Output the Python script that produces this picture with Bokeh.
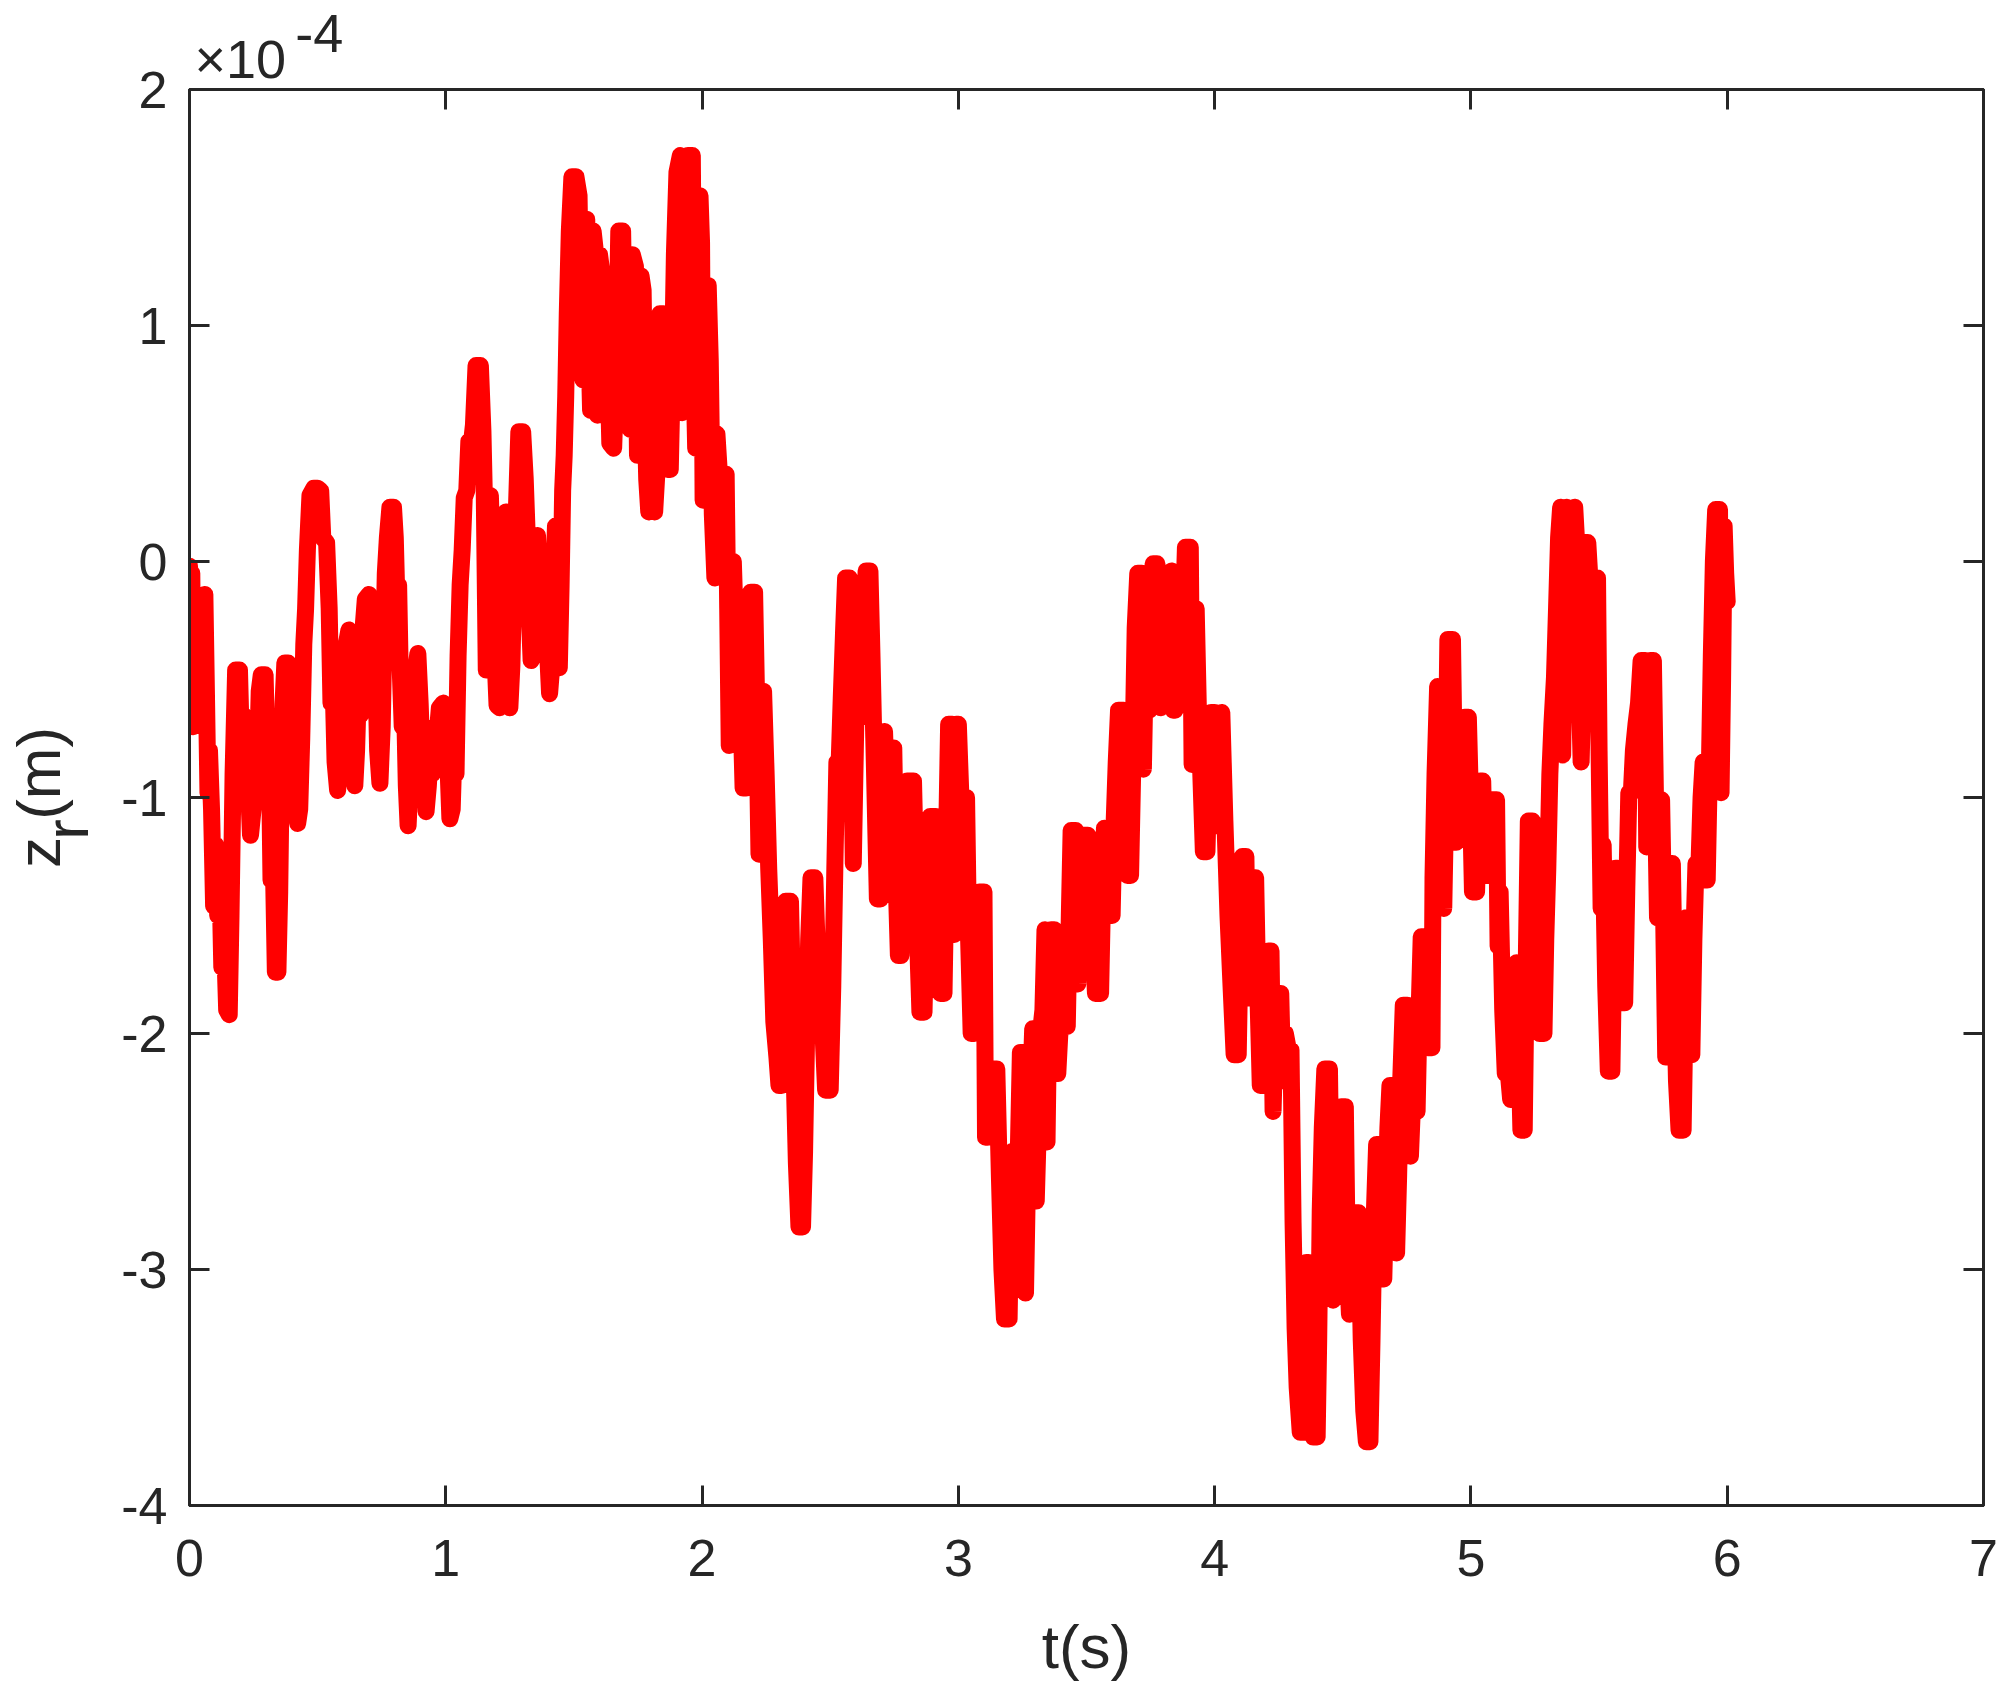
import math
from bokeh.plotting import figure
from bokeh.models import Range1d, FixedTicker, LinearAxis, Title
from bokeh.embed import file_html
from bokeh.resources import INLINE

# ---------------- data (t in s, z_r in units of 1e-4 m) ----------------
seg_0_to_1 = [
    (0.000, -0.02), (0.004, -0.30), (0.009, -0.05), (0.014, -0.70), (0.020, -0.35), (0.026, -0.68),
    (0.034, -0.25), (0.045, -0.40), (0.052, -0.15), (0.060, -0.14), (0.066, -0.55), (0.072, -0.98),
    (0.078, -0.80), (0.086, -1.05), (0.094, -1.46), (0.102, -1.20), (0.110, -1.50), (0.118, -1.30),
    (0.126, -1.72), (0.135, -1.55), (0.145, -1.90), (0.155, -1.92), (0.162, -1.50), (0.170, -0.90),
    (0.180, -0.46), (0.195, -0.46), (0.203, -0.80), (0.210, -0.65), (0.218, -1.00), (0.228, -0.90),
    (0.238, -1.16), (0.248, -1.05), (0.256, -0.80), (0.264, -0.90), (0.272, -0.55), (0.280, -0.48),
    (0.295, -0.48), (0.303, -0.85), (0.310, -0.70), (0.318, -1.35), (0.326, -1.20), (0.335, -1.74),
    (0.345, -1.74), (0.352, -1.40), (0.358, -0.90), (0.365, -0.60), (0.372, -0.43), (0.385, -0.43),
    (0.392, -0.75), (0.398, -0.60), (0.405, -0.95), (0.414, -0.85), (0.422, -1.11), (0.430, -1.05),
    (0.438, -0.75), (0.446, -0.35), (0.453, -0.20), (0.460, 0.05), (0.470, 0.28), (0.485, 0.31),
    (0.500, 0.31), (0.512, 0.30), (0.520, 0.10), (0.535, 0.08), (0.545, -0.20), (0.552, -0.60),
    (0.560, -0.50), (0.568, -0.85), (0.578, -0.97), (0.588, -0.80), (0.596, -0.60), (0.604, -0.75),
    (0.612, -0.35), (0.622, -0.29), (0.630, -0.55), (0.638, -0.70), (0.645, -0.95), (0.652, -0.80),
    (0.660, -0.50), (0.668, -0.65), (0.676, -0.30), (0.686, -0.16), (0.700, -0.14), (0.712, -0.18),
    (0.718, -0.55), (0.726, -0.40), (0.734, -0.80), (0.743, -0.94), (0.752, -0.70), (0.758, -0.35),
    (0.764, -0.05), (0.772, 0.10), (0.782, 0.23), (0.796, 0.23), (0.803, 0.10), (0.810, -0.20),
    (0.816, -0.10), (0.822, -0.45), (0.830, -0.70), (0.838, -0.55), (0.846, -0.95), (0.853, -1.12),
    (0.862, -0.90), (0.870, -0.60), (0.878, -0.75), (0.884, -0.45), (0.891, -0.39), (0.900, -0.60),
    (0.908, -0.85), (0.916, -0.75), (0.923, -1.06), (0.932, -0.95), (0.940, -0.80), (0.948, -0.90),
    (0.956, -0.70), (0.965, -0.75), (0.975, -0.62), (0.990, -0.60), (1.000, -0.62), (1.008, -0.85),
    (1.016, -1.09), (1.025, -1.05), (1.032, -0.80), (1.040, -0.90), (1.048, -0.40), (1.056, -0.10),
    (1.064, 0.05), (1.072, 0.27), (1.082, 0.30), (1.090, 0.51), (1.100, 0.50), (1.108, 0.58),
    (1.118, 0.83), (1.135, 0.83), (1.145, 0.55),
]

seg_1_to_2 = [
    (1.150, 0.30), (1.158, -0.46), (1.166, -0.10), (1.174, 0.28), (1.182, 0.00), (1.190, -0.35),
    (1.200, -0.61), (1.210, -0.62), (1.218, -0.20), (1.225, 0.05), (1.235, 0.21), (1.243, -0.10),
    (1.250, -0.62), (1.258, -0.44), (1.266, -0.05), (1.275, 0.20), (1.285, 0.55), (1.300, 0.55),
    (1.310, 0.35), (1.318, 0.10), (1.325, -0.20), (1.333, -0.42), (1.342, -0.40), (1.350, -0.10),
    (1.358, 0.11), (1.366, -0.10), (1.374, -0.35), (1.382, -0.10), (1.390, 0.03), (1.398, -0.40),
    (1.405, -0.56), (1.413, -0.45), (1.420, -0.10), (1.428, 0.15), (1.435, -0.20), (1.443, -0.45),
    (1.450, -0.10), (1.456, 0.30), (1.462, 0.45), (1.468, 0.70), (1.474, 1.05), (1.482, 1.40),
    (1.492, 1.63), (1.508, 1.63), (1.520, 1.55), (1.528, 1.00), (1.535, 0.77), (1.542, 1.20),
    (1.550, 1.45), (1.558, 0.95), (1.565, 0.64), (1.575, 1.40), (1.585, 1.30), (1.592, 0.62),
    (1.600, 1.30), (1.612, 1.20), (1.620, 0.98), (1.630, 0.95), (1.640, 0.50), (1.655, 0.48),
    (1.665, 0.80), (1.675, 1.40), (1.690, 1.40), (1.698, 0.87), (1.705, 0.80), (1.712, 1.10),
    (1.720, 0.56), (1.728, 1.30), (1.740, 1.25), (1.748, 0.45), (1.755, 0.60), (1.762, 1.21),
    (1.770, 1.15), (1.776, 0.70), (1.784, 0.35), (1.792, 0.21), (1.800, 0.83), (1.808, 0.60),
    (1.815, 0.21), (1.825, 0.40), (1.835, 1.05), (1.850, 1.05), (1.858, 0.70), (1.866, 0.39),
    (1.876, 0.39), (1.884, 0.80), (1.892, 1.30), (1.902, 1.65), (1.915, 1.72), (1.922, 0.63),
    (1.930, 1.10), (1.938, 1.00), (1.945, 1.72), (1.962, 1.72), (1.968, 0.83), (1.975, 0.48),
    (1.983, 1.20), (1.992, 1.55), (1.998, 1.35), (2.004, 0.26), (2.012, 0.40), (2.024, 1.17),
    (2.032, 0.85), (2.040, 0.20), (2.050, -0.07), (2.058, 0.54), (2.066, 0.40), (2.076, 0.37),
    (2.094, 0.37), (2.100, -0.20), (2.106, -0.78), (2.114, -0.20), (2.122, 0.00),
]

seg_2_to_3 = [
    (2.132, -0.35), (2.145, -0.35), (2.160, -0.96), (2.172, -0.96), (2.180, -0.50), (2.190, -0.13),
    (2.205, -0.13), (2.213, -0.60), (2.222, -1.24), (2.232, -1.00), (2.240, -0.55), (2.250, -0.90),
    (2.260, -1.30), (2.270, -1.60), (2.280, -1.95), (2.292, -2.10), (2.300, -2.22), (2.310, -2.22),
    (2.318, -1.80), (2.326, -1.44), (2.345, -1.44), (2.352, -1.80), (2.360, -2.20), (2.368, -2.55),
    (2.378, -2.82), (2.392, -2.82), (2.400, -2.50), (2.408, -2.00), (2.416, -1.60), (2.425, -1.34),
    (2.440, -1.34), (2.448, -1.60), (2.456, -1.90), (2.464, -1.75), (2.472, -2.00), (2.482, -2.24),
    (2.500, -2.24), (2.510, -1.80), (2.518, -1.30), (2.526, -0.85), (2.535, -0.85), (2.543, -0.58),
    (2.552, -0.30), (2.560, -0.07), (2.575, -0.07), (2.582, -0.60), (2.590, -1.28), (2.598, -0.80),
    (2.606, -0.30), (2.614, -0.10), (2.622, -0.66), (2.630, -0.40), (2.640, -0.04), (2.655, -0.04),
    (2.663, -0.40), (2.670, -0.75), (2.684, -1.43), (2.696, -1.43), (2.704, -0.90), (2.712, -0.72),
    (2.722, -1.05), (2.732, -0.79), (2.748, -0.79), (2.756, -1.30), (2.766, -1.67), (2.776, -1.67),
    (2.786, -1.20), (2.800, -0.93), (2.825, -0.93), (2.835, -1.40), (2.850, -1.91), (2.866, -1.91),
    (2.876, -1.40), (2.890, -1.08), (2.912, -1.08), (2.920, -1.50), (2.930, -1.83), (2.944, -1.83),
    (2.952, -1.30), (2.962, -0.69), (2.976, -0.69), (2.984, -1.58), (2.992, -0.69), (3.000, -0.69),
]

seg_3_to_4 = [
    (3.010, -1.00), (3.022, -1.20), (3.032, -1.00), (3.040, -1.60), (3.050, -2.00), (3.062, -2.00),
    (3.072, -1.60), (3.082, -1.40), (3.100, -1.40), (3.106, -2.44), (3.114, -2.44), (3.122, -2.20),
    (3.135, -2.15), (3.150, -2.15), (3.160, -2.60), (3.170, -3.00), (3.180, -3.21), (3.198, -3.21),
    (3.205, -2.75), (3.210, -2.50), (3.216, -2.90), (3.225, -3.00), (3.232, -2.60), (3.242, -2.08),
    (3.258, -2.08), (3.262, -3.10), (3.270, -2.60), (3.280, -2.30), (3.290, -1.98), (3.300, -1.98),
    (3.304, -2.71), (3.312, -2.40), (3.320, -2.00), (3.330, -1.90), (3.338, -1.56), (3.346, -2.46),
    (3.354, -1.80), (3.362, -1.56), (3.374, -1.56), (3.380, -2.00), (3.388, -2.17), (3.396, -2.00),
    (3.410, -1.97), (3.425, -1.97), (3.433, -1.50), (3.440, -1.14), (3.458, -1.14), (3.466, -1.79),
    (3.474, -1.40), (3.482, -1.16), (3.505, -1.16), (3.515, -1.40), (3.525, -1.60), (3.535, -1.83),
    (3.555, -1.83), (3.563, -1.40), (3.570, -1.13), (3.578, -1.30), (3.590, -1.50), (3.600, -1.50),
    (3.608, -1.10), (3.616, -0.85), (3.625, -0.63), (3.645, -0.63), (3.652, -1.00), (3.660, -1.33),
    (3.672, -1.33), (3.680, -0.90), (3.690, -0.28), (3.700, -0.05), (3.716, -0.05), (3.722, -0.88),
    (3.730, -0.40), (3.738, -0.10), (3.745, -0.63), (3.752, -0.30), (3.760, -0.01), (3.775, -0.01),
    (3.782, -0.30), (3.790, -0.62), (3.798, -0.35), (3.806, -0.10), (3.820, -0.05), (3.832, -0.04),
    (3.838, -0.63), (3.846, -0.63), (3.852, -0.30), (3.860, -0.20), (3.868, -0.55), (3.876, -0.30),
    (3.886, 0.06), (3.905, 0.06), (3.912, -0.86), (3.920, -0.40), (3.928, -0.20), (3.936, -0.60),
    (3.946, -0.90), (3.956, -1.23), (3.970, -1.23), (3.978, -0.90), (3.986, -0.64), (4.000, -0.64),
]

seg_4_to_5 = [
    (4.008, -1.12), (4.016, -0.80), (4.028, -0.64), (4.040, -1.10), (4.052, -1.50), (4.064, -1.80),
    (4.076, -2.09), (4.092, -2.09), (4.100, -1.60), (4.108, -1.25), (4.122, -1.25), (4.130, -1.85),
    (4.138, -1.60), (4.150, -1.34), (4.160, -1.34), (4.168, -1.80), (4.178, -2.22), (4.192, -2.22),
    (4.200, -1.90), (4.210, -1.65), (4.220, -1.65), (4.228, -2.33), (4.236, -2.00), (4.246, -1.83),
    (4.258, -1.83), (4.266, -2.20), (4.276, -2.00), (4.288, -2.07), (4.298, -2.07), (4.306, -2.80),
    (4.314, -3.25), (4.322, -3.50), (4.334, -3.69), (4.345, -3.69), (4.352, -3.20), (4.358, -2.97),
    (4.366, -2.97), (4.374, -3.40), (4.384, -3.71), (4.400, -3.71), (4.406, -3.30), (4.412, -2.75),
    (4.420, -2.40), (4.430, -2.15), (4.448, -2.15), (4.456, -2.80), (4.462, -3.13), (4.470, -3.00),
    (4.478, -2.80), (4.486, -2.50), (4.494, -2.31), (4.510, -2.31), (4.518, -3.00), (4.526, -3.19),
    (4.534, -2.90), (4.545, -2.76), (4.562, -2.76), (4.572, -3.30), (4.582, -3.60), (4.592, -3.73),
    (4.606, -3.73), (4.614, -3.30), (4.622, -2.80), (4.632, -2.47), (4.645, -2.47), (4.652, -2.80),
    (4.660, -3.04), (4.668, -2.70), (4.676, -2.40), (4.684, -2.22), (4.696, -2.22), (4.703, -2.60),
    (4.710, -2.93), (4.718, -2.60), (4.726, -2.20), (4.736, -1.88), (4.752, -1.88), (4.758, -2.20),
    (4.764, -2.52), (4.772, -2.30), (4.780, -2.33), (4.790, -2.33), (4.798, -1.90), (4.806, -1.59),
    (4.816, -1.59), (4.824, -1.90), (4.832, -2.06), (4.848, -2.06), (4.852, -1.34), (4.860, -0.90),
    (4.870, -0.53), (4.878, -0.80), (4.886, -1.20), (4.894, -1.47), (4.902, -1.00), (4.910, -0.33),
    (4.928, -0.33), (4.934, -0.80), (4.942, -1.19), (4.950, -1.00), (4.958, -1.10), (4.966, -0.80),
    (4.975, -0.66), (4.990, -0.66), (4.998, -1.00),
]

seg_5_to_6 = [
    (5.006, -1.40), (5.022, -1.40), (5.030, -1.10), (5.036, -0.93), (5.046, -0.93), (5.054, -1.33),
    (5.064, -1.33), (5.072, -1.10), (5.080, -1.01), (5.100, -1.01), (5.106, -1.63), (5.114, -1.40),
    (5.124, -1.90), (5.134, -2.17), (5.146, -2.17), (5.155, -2.28), (5.165, -2.20), (5.172, -1.90),
    (5.178, -1.70), (5.186, -2.00), (5.195, -2.41), (5.208, -2.41), (5.216, -1.70), (5.224, -1.10),
    (5.240, -1.10), (5.248, -1.50), (5.258, -1.80), (5.268, -2.00), (5.285, -2.00), (5.292, -1.60),
    (5.300, -1.30), (5.308, -0.90), (5.316, -0.69), (5.326, -0.49), (5.334, -0.20), (5.342, 0.10),
    (5.350, 0.23), (5.358, -0.82), (5.366, -0.20), (5.374, 0.23), (5.386, -0.29), (5.394, 0.10),
    (5.405, 0.23), (5.414, 0.05), (5.422, -0.50), (5.430, -0.85), (5.438, -0.50), (5.446, 0.08),
    (5.456, 0.08), (5.464, -0.07), (5.472, -0.30), (5.480, -0.07), (5.494, -0.07), (5.500, -0.80),
    (5.508, -1.47), (5.516, -1.20), (5.526, -1.80), (5.536, -2.16), (5.550, -2.16), (5.558, -1.60),
    (5.564, -1.30), (5.572, -1.30), (5.580, -1.60), (5.590, -1.87), (5.600, -1.87), (5.608, -1.40),
    (5.616, -0.98), (5.626, -0.98), (5.634, -0.80), (5.644, -0.69), (5.654, -0.60), (5.664, -0.42),
    (5.680, -0.42), (5.686, -1.21), (5.692, -0.70), (5.700, -0.42), (5.712, -0.42), (5.720, -1.00),
    (5.728, -1.51), (5.736, -1.20), (5.744, -1.01), (5.752, -1.50), (5.760, -2.10), (5.768, -1.70),
    (5.776, -1.28), (5.786, -1.28), (5.794, -1.80), (5.802, -2.20), (5.812, -2.41), (5.828, -2.41),
    (5.834, -2.00), (5.840, -1.51), (5.850, -1.51), (5.856, -1.80), (5.862, -2.09), (5.870, -1.60),
    (5.878, -1.28), (5.890, -1.28), (5.898, -1.00), (5.906, -0.85), (5.914, -1.35), (5.922, -1.35),
    (5.930, -0.90), (5.938, -0.40), (5.946, 0.00), (5.955, 0.22), (5.970, 0.22), (5.976, -0.98),
    (5.982, -0.50), (5.988, 0.15), (5.994, -0.05), (6.000, -0.17),
]

segments = [seg_0_to_1, seg_1_to_2, seg_2_to_3, seg_3_to_4, seg_4_to_5, seg_5_to_6]
t_s = [pt[0] for seg in segments for pt in seg]
zr_1e4 = [pt[1] for seg in segments for pt in seg]

x_ticks = [0, 1, 2, 3, 4, 5, 6, 7]
y_ticks = [-4, -3, -2, -1, 0, 1, 2]
y_tick_labels = {v: str(v) for v in y_ticks}   # plain hyphen-minus like the original

FONT = "Liberation Sans, DejaVu Sans"
INK = "#262626"
NBSP = "\u00a0"
THIN = "\u2009"

p = figure(width=2003, height=1696,
           x_range=Range1d(0, 7), y_range=Range1d(-4, 2),
           output_backend="svg", toolbar_location=None,
           min_border_left=189, min_border_right=20,
           min_border_top=89, min_border_bottom=191)
p.xgrid.grid_line_color = None
p.ygrid.grid_line_color = None
p.outline_line_color = INK
p.outline_line_width = 3
p.background_fill_color = "white"
p.border_fill_color = "white"

p.line(t_s, zr_1e4, line_color="#ff0000", line_width=17,
       line_join="round", line_cap="round")


def style_axis(ax, ticks, show_labels, standoff=0):
    ax.ticker = FixedTicker(ticks=ticks)
    ax.axis_line_color = INK
    ax.axis_line_width = 3
    ax.major_tick_line_color = INK
    ax.major_tick_line_width = 3
    ax.major_tick_in = 20
    ax.major_tick_out = 0
    ax.minor_tick_line_color = None
    if show_labels:
        ax.major_label_text_font = FONT
        ax.major_label_text_font_size = "52px"
        ax.major_label_text_color = INK
        ax.major_label_standoff = standoff
        ax.axis_label_text_font = FONT
        ax.axis_label_text_font_style = "normal"
        ax.axis_label_text_color = INK
        ax.axis_label_text_font_size = "62px"
    else:
        ax.axis_label = None
        ax.major_label_text_font_size = "0px"
        ax.major_label_text_alpha = 0
        ax.major_label_standoff = 0


xa = p.xaxis[0]
ya = p.yaxis[0]
style_axis(xa, x_ticks, True, 34)
style_axis(ya, y_ticks, True, 22)
ya.major_label_overrides = y_tick_labels
xa.axis_label = "t(s)"
xa.axis_label_standoff = 33
# z_r(m): main line "z (m)" with the subscript "r" on a tight second line below it
ya.axis_label = "z" + NBSP + "(m)" + "\n" + "r" + NBSP * 3 + THIN
ya.axis_label_text_line_height = 0.41
ya.axis_label_standoff = 17

top_ax = LinearAxis()
right_ax = LinearAxis()
style_axis(top_ax, x_ticks, False)
style_axis(right_ax, y_ticks, False)
p.add_layout(top_ax, "above")
p.add_layout(right_ax, "right")

# exponent: raised "-4" on a tight upper line, "×10" on the baseline line
exp_text = NBSP * 6 + THIN + "-4" + "\n" + "\u00d710"
exp_title = Title(text=exp_text, align="left", offset=5, standoff=0,
                  text_font=FONT, text_font_size="54px", text_font_style="normal",
                  text_line_height=0.44, text_color=INK)
p.add_layout(exp_title, "above")

open("out.html", "w").write(file_html(p, INLINE))
